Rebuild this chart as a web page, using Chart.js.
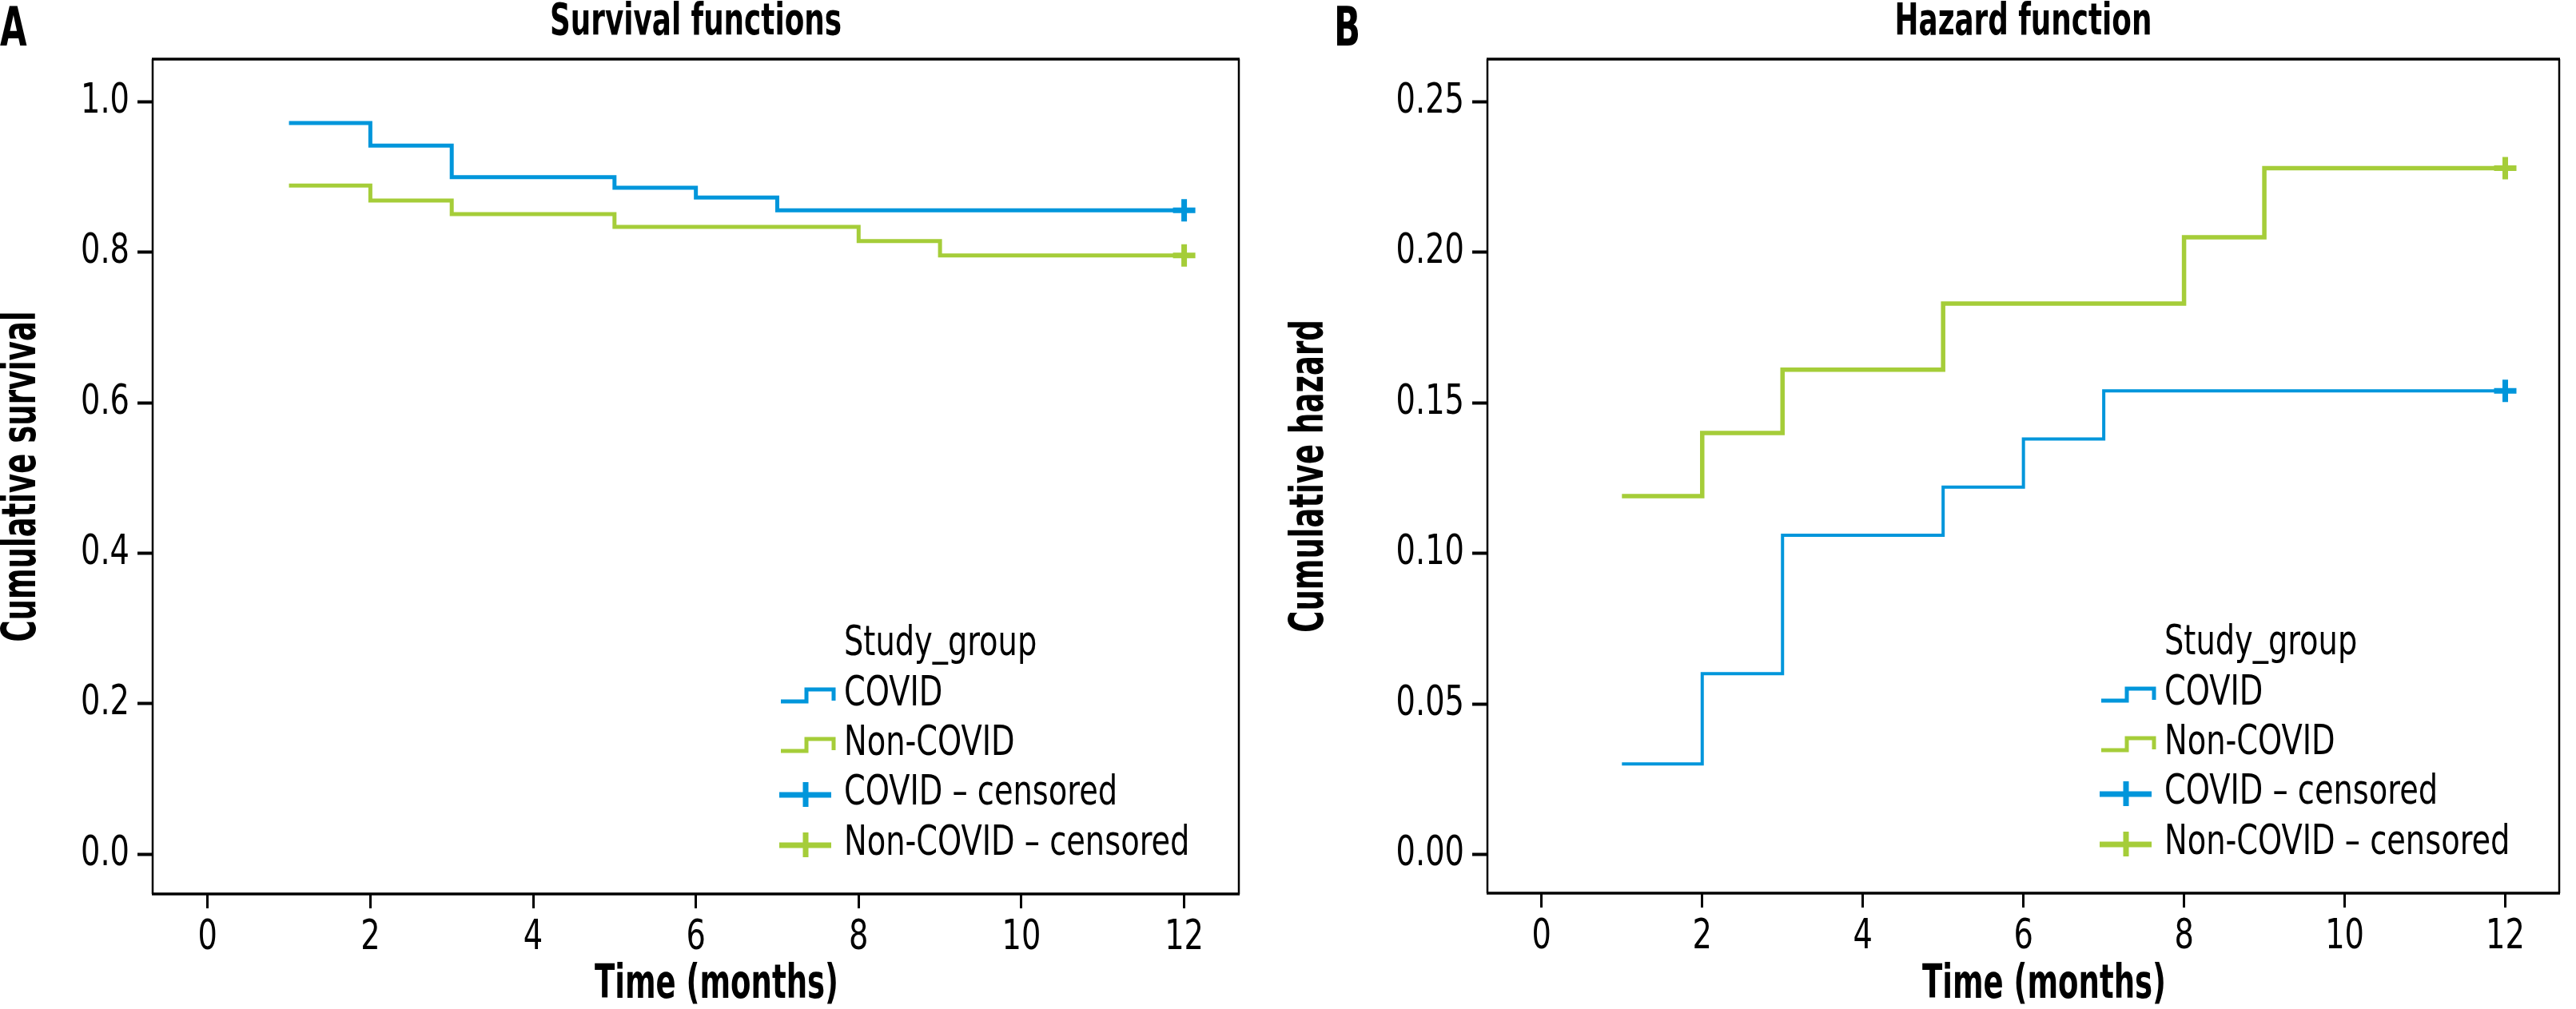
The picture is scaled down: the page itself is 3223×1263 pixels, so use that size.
<!DOCTYPE html>
<html>
<head>
<meta charset="utf-8">
<script src="https://cdn.jsdelivr.net/npm/chart.js@4.4.0/dist/chart.umd.min.js"></script>
<style>
  body { margin: 0; background: #fff; overflow: hidden; }
  .painel { position: absolute; top: 0; height: 1263px; }
  #painelA { left: 0; width: 1611px; }
  #painelB { left: 1611px; width: 1612px; }
</style>
</head>
<body>
<div class="painel" id="painelA"><canvas id="grafico-sobrevivencia"></canvas></div>
<div class="painel" id="painelB"><canvas id="grafico-risco"></canvas></div>
<script>
// values
const covidTimes = [1, 2, 3, 5, 6, 7, 12];
const covidSurvival = [0.972, 0.942, 0.900, 0.886, 0.873, 0.856, 0.856];
const covidHazard = [0.030, 0.060, 0.106, 0.122, 0.138, 0.154, 0.154];
const nonCovidTimes = [1, 2, 3, 5, 8, 9, 12];
const nonCovidSurvival = [0.889, 0.869, 0.851, 0.834, 0.815, 0.796, 0.796];
const nonCovidHazard = [0.119, 0.140, 0.161, 0.183, 0.205, 0.228, 0.228];
const censoredTime = 12;
const timeTicks = [0, 2, 4, 6, 8, 10, 12];
const survivalTicks = [0.0, 0.2, 0.4, 0.6, 0.8, 1.0];
const hazardTicks = [0.00, 0.05, 0.10, 0.15, 0.20, 0.25];
const legendTitle = 'Study_group';
const legendLabels = ['COVID', 'Non-COVID', 'COVID \u2013 censored', 'Non-COVID \u2013 censored'];

const AZUL = '#0096DB';
const VERDE = '#A5CD39';
const FONTE = "'Liberation Sans Narrow', 'DejaVu Sans Condensed', sans-serif";

// no condensed font like the original one, so squeeze every text horizontally
const fillTextOriginal = CanvasRenderingContext2D.prototype.fillText;
CanvasRenderingContext2D.prototype.fillText = function (text, x, y, maxWidth) {
  const fator = this.font.indexOf('bold') >= 0 ? 0.71 : 0.82;
  this.save();
  this.translate(x, y);
  this.scale(fator, 1);
  if (maxWidth === undefined) {
    fillTextOriginal.call(this, text, 0, 0);
  } else {
    fillTextOriginal.call(this, text, 0, 0, maxWidth / fator);
  }
  this.restore();
};

function pontos(xs, ys) {
  return xs.map((x, i) => ({ x: x, y: ys[i] }));
}

// frame, panel letter, x title and the step/cross legend
const molduraLegenda = {
  id: 'molduraLegenda',
  afterDraw(chart, args, opts) {
    const ctx = chart.ctx;
    const a = chart.chartArea;
    ctx.save();
    ctx.strokeStyle = '#000';
    ctx.lineWidth = 3.5;
    ctx.beginPath();
    ctx.moveTo(a.left - 1, a.top); ctx.lineTo(a.right + 1, a.top);
    ctx.moveTo(a.left - 1, a.bottom); ctx.lineTo(a.right + 1, a.bottom);
    ctx.stroke();
    ctx.lineWidth = 2.5;
    ctx.beginPath();
    ctx.moveTo(a.left, a.top); ctx.lineTo(a.left, a.bottom);
    ctx.moveTo(a.right, a.top); ctx.lineTo(a.right, a.bottom);
    ctx.stroke();

    ctx.fillStyle = '#000';
    ctx.textBaseline = 'alphabetic';
    ctx.textAlign = 'left';
    ctx.font = 'bold 68px ' + FONTE;
    ctx.fillText(opts.letra, opts.letraX, 57);

    // x axis title sits a little right of the centre in the original
    ctx.textAlign = 'center';
    ctx.textBaseline = 'middle';
    ctx.font = 'bold 58px ' + FONTE;
    ctx.fillText(opts.tituloX, (a.left + a.right) / 2 + 26, 1234);

    ctx.textAlign = 'left';
    ctx.textBaseline = 'alphabetic';
    const xTexto = a.right - 494;
    const x0 = a.right - 573;
    const bases = [a.bottom - 299, a.bottom - 236, a.bottom - 174, a.bottom - 112, a.bottom - 49];
    ctx.font = '52px ' + FONTE;
    ctx.fillText(legendTitle, xTexto, bases[0]);
    const cores = [AZUL, VERDE, AZUL, VERDE];
    for (let i = 0; i < 4; i++) {
      const b = bases[i + 1];
      ctx.fillStyle = '#000';
      ctx.fillText(legendLabels[i], xTexto, b);
      ctx.strokeStyle = cores[i];
      ctx.beginPath();
      if (i < 2) {
        ctx.lineWidth = 5;
        ctx.moveTo(x0, b - 5);
        ctx.lineTo(x0 + 32, b - 5);
        ctx.lineTo(x0 + 32, b - 20);
        ctx.lineTo(x0 + 66, b - 20);
        ctx.lineTo(x0 + 66, b - 6);
      } else {
        ctx.lineWidth = 7;
        ctx.moveTo(x0 - 2, b - 12);
        ctx.lineTo(x0 + 63, b - 12);
        ctx.moveTo(x0 + 31, b - 28);
        ctx.lineTo(x0 + 31, b + 3);
      }
      ctx.stroke();
    }
    ctx.restore();
  }
};

function criarGrafico(id, cfg) {
  return new Chart(document.getElementById(id).getContext('2d'), {
    type: 'scatter',
    data: {
      datasets: [{
        label: legendLabels[0],
        data: pontos(covidTimes, cfg.covid),
        showLine: true,
        stepped: true,
        borderColor: AZUL,
        borderWidth: cfg.larguraAzul,
        pointRadius: 0
      }, {
        label: legendLabels[1],
        data: pontos(nonCovidTimes, cfg.nonCovid),
        showLine: true,
        stepped: true,
        borderColor: VERDE,
        borderWidth: cfg.larguraVerde,
        pointRadius: 0
      }, {
        label: legendLabels[2],
        data: [{ x: censoredTime, y: cfg.covid[cfg.covid.length - 1] }],
        pointStyle: 'cross',
        pointRadius: 14,
        borderWidth: 7,
        pointBorderWidth: 7,
        borderColor: AZUL,
        backgroundColor: AZUL
      }, {
        label: legendLabels[3],
        data: [{ x: censoredTime, y: cfg.nonCovid[cfg.nonCovid.length - 1] }],
        pointStyle: 'cross',
        pointRadius: 14,
        borderWidth: 7,
        pointBorderWidth: 7,
        borderColor: VERDE,
        backgroundColor: VERDE
      }]
    },
    options: {
      responsive: true,
      maintainAspectRatio: false,
      animation: false,
      devicePixelRatio: 1,
      layout: { padding: { left: 0, right: cfg.direita, top: 0, bottom: 0 } },
      scales: {
        x: {
          type: 'linear',
          min: -0.675,
          max: 12.672,
          afterFit: (scale) => { scale.height = cfg.alturaX; },
          afterBuildTicks: (scale) => { scale.ticks = timeTicks.map(v => ({ value: v })); },
          grid: { drawOnChartArea: false, tickLength: 18, tickWidth: 3, tickColor: '#000' },
          border: { display: false },
          ticks: { color: '#000', padding: 6, font: { family: FONTE, size: 52 } },
          title: { display: false }
        },
        y: {
          min: cfg.yMin,
          max: cfg.yMax,
          afterFit: (scale) => { scale.width = cfg.larguraY; },
          afterBuildTicks: (scale) => { scale.ticks = cfg.ticks.map(v => ({ value: v })); },
          grid: { drawOnChartArea: false, tickLength: 19, tickWidth: 4, tickColor: '#000' },
          border: { display: false },
          ticks: {
            color: '#000',
            padding: 10,
            font: { family: FONTE, size: 52 },
            callback: (v) => v.toFixed(cfg.casas)
          },
          title: {
            display: true,
            text: cfg.tituloY,
            color: '#000',
            padding: 0,
            font: { family: FONTE, size: 58, weight: 'bold', lineHeight: 1 }
          }
        }
      },
      plugins: {
        legend: { display: false },
        tooltip: { enabled: false },
        title: {
          display: true,
          text: cfg.titulo,
          color: '#000',
          fullSize: false,
          padding: { top: 0, bottom: 18 },
          font: { family: FONTE, size: 56, weight: 'bold', lineHeight: 1 }
        },
        molduraLegenda: { letra: cfg.letra, letraX: cfg.letraX, tituloX: 'Time (months)' }
      }
    },
    plugins: [molduraLegenda]
  });
}

window.onload = function () {
  criarGrafico('grafico-sobrevivencia', {
    covid: covidSurvival,
    nonCovid: nonCovidSurvival,
    ticks: survivalTicks,
    casas: 1,
    yMin: -0.053,
    yMax: 1.057,
    larguraY: 191,
    direita: 61,
    alturaX: 144,
    larguraAzul: 5,
    larguraVerde: 5,
    titulo: 'Survival functions',
    tituloY: 'Cumulative survival',
    letra: 'A',
    letraX: 0
  });
  criarGrafico('grafico-risco', {
    covid: covidHazard,
    nonCovid: nonCovidHazard,
    ticks: hazardTicks,
    casas: 2,
    yMin: -0.0129,
    yMax: 0.2642,
    larguraY: 250,
    direita: 4,
    alturaX: 145,
    larguraAzul: 4,
    larguraVerde: 5.5,
    titulo: 'Hazard function',
    tituloY: 'Cumulative hazard',
    letra: 'B',
    letraX: 58
  });
};
</script>
</body>
</html>
